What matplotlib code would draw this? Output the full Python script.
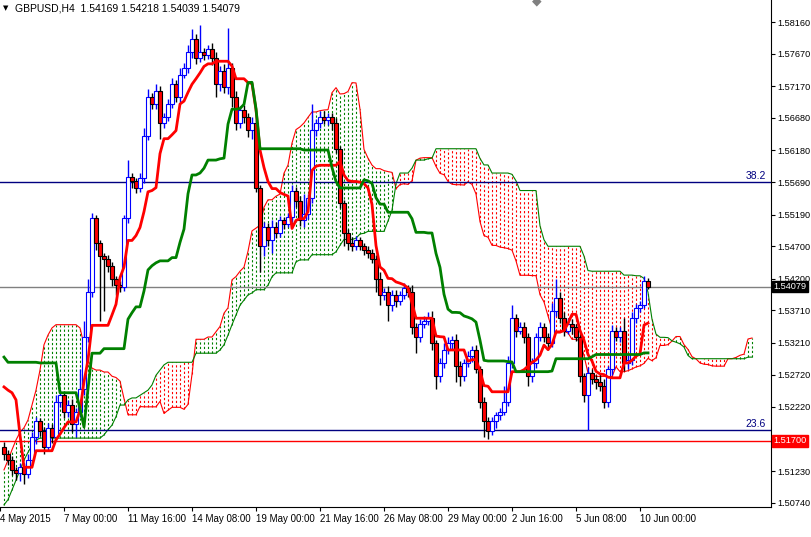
import matplotlib
matplotlib.use("Agg")
import matplotlib.pyplot as plt
import numpy as np

plt.rcParams["font.family"] = ["Liberation Sans", "DejaVu Sans"]

# GBPUSD H4 closes, bar 0 .. 161
closes = [1.5150, 1.5140, 1.5125, 1.5120, 1.5130,
          1.5118, 1.5140, 1.5175, 1.5200,
          1.5185, 1.5160, 1.5190, 1.5175,
          1.5230, 1.5240,
          1.5215, 1.5225, 1.5195, 1.5215,
          1.5250, 1.5330, 1.5400,
          1.5514, 1.5475, 1.5455,
          1.5450, 1.5440, 1.5420, 1.5410, 1.5407,
          1.5514, 1.5577,
          1.5570, 1.5560, 1.5575,
          1.5640, 1.5700, 1.5690,
          1.5710, 1.5660, 1.5670,
          1.5690, 1.5720, 1.5700,
          1.5735, 1.5745,
          1.5770, 1.5790, 1.5760, 1.5770,
          1.5765, 1.5775, 1.5760,
          1.5720, 1.5740, 1.5715, 1.5745,
          1.5700, 1.5660, 1.5680, 1.5670, 1.5650, 1.5660,
          1.5560, 1.5470, 1.5500, 1.5480,
          1.5500, 1.5490, 1.5510, 1.5505, 1.5515,
          1.5555, 1.5540,
          1.5510, 1.5520, 1.5545,
          1.5650, 1.5660, 1.5670, 1.5665, 1.5670, 1.5660,
          1.5620, 1.5537, 1.5490,
          1.5475, 1.5470, 1.5480, 1.5470, 1.5465, 1.5460, 1.5450,
          1.5420, 1.5395, 1.5400,
          1.5380, 1.5395, 1.5385, 1.5395,
          1.5405, 1.5400,
          1.5345, 1.5330,
          1.5350, 1.5355, 1.5360, 1.5320,
          1.5270, 1.5290, 1.5310, 1.5320, 1.5325,
          1.5285, 1.5270,
          1.5290, 1.5300, 1.5310, 1.5280,
          1.5230, 1.5200, 1.5185,
          1.5200, 1.5210, 1.5215, 1.5230,
          1.5290, 1.5360,
          1.5340, 1.5345, 1.5330,
          1.5270, 1.5290, 1.5330,
          1.5345, 1.5330, 1.5320,
          1.5370, 1.5390,
          1.5360, 1.5340, 1.5350, 1.5345,
          1.5330, 1.5270, 1.5240,
          1.5275, 1.5265, 1.5260, 1.5255, 1.5230,
          1.5280, 1.5340, 1.5330, 1.5340,
          1.5290, 1.5295, 1.5360,
          1.5375, 1.5380, 1.54169, 1.54079]
first_open = 1.5160

# wicks in pips above / below the body
wick_up = [8, 5, 6, 4, 5, 6, 10, 8, 6, 5,
           6, 8, 5, 10, 8, 6, 8, 10, 6, 30,
           25, 20, 7, 5, 5, 5, 6, 5, 4, 6,
           5, 26, 6, 5, 8, 12, 13, 6, 10, 8,
           6, 8, 10, 6, 10, 8, 10, 15, 8, 41,
           6, 6, 8, 10, 8, 12, 62, 8, 10, 6,
           8, 6, 10, 5, 5, 8, 6, 10, 8, 6,
           5, 6, 10, 6, 8, 30, 6, 40, 6, 8,
           8, 6, 6, 8, 5, 5, 6, 10, 6, 5,
           5, 6, 6, 6, 10, 5, 8, 8, 8, 6,
           8, 6, 10, 6, 8, 8, 8, 10, 6, 8,
           10, 10, 6, 10, 8, 6, 8, 6, 8, 6,
           8, 6, 6, 5, 5, 25, 10, 20, 6, 8,
           8, 6, 8, 6, 8, 6, 6, 12, 30, 10,
           8, 10, 8, 5, 6, 5, 8, 5, 6, 15,
           10, 6, 8, 6, 6, 20, 8, 8, 6, 6,
           8, 5]
wick_dn = [10, 8, 8, 10, 12, 15, 6, 8, 10, 8,
           10, 6, 8, 6, 8, 10, 8, 12, 20, 8,
           10, 8, 8, 10, 100, 80, 10, 12, 15, 8,
           6, 8, 10, 8, 6, 8, 6, 8, 8, 25,
           8, 6, 6, 8, 8, 6, 8, 10, 8, 6,
           8, 6, 10, 20, 10, 8, 10, 15, 10, 8,
           10, 12, 15, 6, 40, 15, 10, 20, 8, 6,
           8, 5, 8, 10, 8, 10, 8, 8, 10, 8,
           6, 8, 10, 6, 8, 20, 10, 8, 6, 6,
           8, 8, 6, 20, 15, 8, 25, 10, 8, 6,
           6, 8, 10, 25, 8, 6, 6, 10, 20, 10,
           8, 6, 8, 25, 15, 8, 6, 8, 6, 10,
           25, 12, 6, 10, 8, 6, 6, 8, 10, 6,
           10, 15, 10, 8, 6, 8, 10, 6, 8, 8,
           8, 6, 10, 6, 10, 10, 54, 8, 10, 8,
           10, 8, 8, 6, 8, 12, 10, 8, 8, 6,
           6, 4]

# indicator values before enough history is on screen
tenkan_head = [1.5253, 1.5248, 1.5244, 1.5233, 1.5179, 1.5129, 1.5129, 1.5129]
kijun_head = [1.5299] + [1.5291] * 8 + [1.5290] * 5 + [1.5244] * 5 + [1.5220, 1.5191, 1.5250, 1.5305, 1.5305, 1.5305]
span_a_head = [1.5125, 1.5140, 1.5156, 1.5171, 1.5183, 1.5190, 1.5202, 1.5225, 1.5248, 1.5279,
               1.5318, 1.5333, 1.5344, 1.5349, 1.5349, 1.5349, 1.5349, 1.5349, 1.5349, 1.5344,
               1.5318, 1.5294, 1.5282, 1.5279, 1.5279, 1.5276]
span_b_head = [1.5071, 1.5079, 1.5094, 1.5109, 1.5125, 1.5140, 1.5152, 1.5163, 1.5171,
               1.5174, 1.5174, 1.5174, 1.5174, 1.5174, 1.5174, 1.5174, 1.5174, 1.5174, 1.5174,
               1.5174, 1.5174, 1.5174, 1.5174, 1.5174, 1.5174, 1.5179, 1.5187, 1.5194, 1.5207,
               1.5225, 1.5225, 1.5233, 1.5236, 1.5236, 1.5240, 1.5244, 1.5248, 1.5256, 1.5271,
               1.5279, 1.5287, 1.5291, 1.5291, 1.5291, 1.5291, 1.5291, 1.5291, 1.5291, 1.5305,
               1.5305, 1.5305, 1.5305, 1.5305, 1.5305, 1.5310, 1.5318, 1.5333, 1.5349, 1.5364,
               1.5379, 1.5387, 1.5395, 1.5398, 1.5403, 1.5403, 1.5403, 1.5410, 1.5423, 1.5429,
               1.5429, 1.5429, 1.5429, 1.5429, 1.5446, 1.5449, 1.5449, 1.5449]

price_ticks = [1.58160, 1.57670, 1.57170, 1.56680, 1.56180, 1.55690, 1.55190, 1.54700,
               1.54200, 1.53710, 1.53210, 1.52720, 1.52220, 1.51230, 1.50740]
date_labels = ["4 May 2015", "7 May 00:00", "11 May 16:00", "14 May 08:00", "19 May 00:00",
               "21 May 16:00", "26 May 08:00", "29 May 00:00", "2 Jun 16:00", "5 Jun 08:00",
               "10 Jun 00:00"]
date_bars = [-1, 15, 31, 47, 63, 79, 95, 111, 127, 143, 159]
fib_382 = 1.55690
fib_236 = 1.51865
support = 1.51700

n = len(closes)
c = np.array(closes)
o = np.concatenate([[first_open], c[:-1]])
hi = np.maximum(o, c) + np.array(wick_up) * 1e-4
lo = np.minimum(o, c) - np.array(wick_dn) * 1e-4
hi[-1], lo[-1] = 1.54218, 1.54039

tenkan = list(tenkan_head)
for i in range(8, n):
    tenkan.append((hi[i - 8:i + 1].max() + lo[i - 8:i + 1].min()) / 2)
kijun = list(kijun_head)
for i in range(25, n):
    kijun.append((hi[i - 25:i + 1].max() + lo[i - 25:i + 1].min()) / 2)
span_a = list(span_a_head) + [(tenkan[j] + kijun[j]) / 2 for j in range(n)]
span_b = list(span_b_head)
for j in range(51, n):
    span_b.append((hi[j - 51:j + 1].max() + lo[j - 51:j + 1].min()) / 2)
span_a = np.array(span_a)
span_b = np.array(span_b)

fig = plt.figure(figsize=(8.12, 5.37), dpi=100)
ax = fig.add_axes([0, 30 / 537, 771 / 812, 507 / 537])
ax.set_xlim(-1, 191.75)
ax.set_ylim(1.50677, 1.5850)

# cloud
xs = np.arange(len(span_a))
for i in xs:
    col = "#008000" if span_a[i] >= span_b[i] else "#ff0000"
    ax.vlines(i, min(span_a[i], span_b[i]), max(span_a[i], span_b[i]), colors=col,
              linestyles=(0, (2, 2)), lw=0.8, zorder=1)
ax.plot(xs, span_a, color="#ff0000", lw=0.8, zorder=2)
ax.plot(xs, span_b, color="#008000", lw=0.8, zorder=2)

# horizontal levels
ax.axhline(fib_382, color="#000080", lw=1, zorder=2)
ax.axhline(fib_236, color="#000080", lw=1, zorder=2)
ax.axhline(support, color="#ff0000", lw=1, zorder=2)
ax.axhline(closes[-1], color="#808080", lw=1, zorder=2)
ax.text(190.5, fib_382 + 0.0002, "38.2", color="#000080", fontsize=7.5, ha="right", va="bottom")
ax.text(190.5, fib_236 + 0.0002, "23.6", color="#000080", fontsize=7.5, ha="right", va="bottom")

# candles
for i in range(n):
    up = c[i] >= o[i]
    wick = "#0000ff" if up else "#000000"
    ax.vlines(i, lo[i], hi[i], colors=wick, lw=1, zorder=3)
    b0, b1 = min(o[i], c[i]), max(o[i], c[i])
    if b1 - b0 < 0.00003:
        b1 = b0 + 0.00003
    ax.add_patch(plt.Rectangle((i - 0.4, b0), 0.8, b1 - b0,
                               facecolor="white" if up else "#ff0000",
                               edgecolor="#0000ff" if up else "#000000", lw=0.8, zorder=4))

ax.plot(range(n), tenkan, color="#ff0000", lw=2, zorder=5)
ax.plot(range(n), kijun, color="#008000", lw=2, zorder=5)

# axes styling
for s in ["top", "left"]:
    ax.spines[s].set_visible(False)
ax.yaxis.tick_right()
ax.set_yticks(price_ticks)
ax.set_yticklabels(["%.5f" % p for p in price_ticks], fontsize=6.6)
ax.tick_params(axis="y", length=3, pad=1.5)
ax.set_xticks(date_bars)
ax.set_xticklabels(date_labels, fontsize=7, ha="left")
ax.tick_params(axis="x", length=3, pad=2)
ax.text(1.003, closes[-1], "%.5f" % closes[-1], transform=ax.get_yaxis_transform(), fontsize=6.6,
        color="white", va="center", ha="left", zorder=10,
        bbox=dict(boxstyle="square,pad=0.15", fc="black", ec="black"))
ax.text(1.003, support, "%.5f" % support, transform=ax.get_yaxis_transform(), fontsize=6.6,
        color="white", va="center", ha="left", zorder=10,
        bbox=dict(boxstyle="square,pad=0.15", fc="#ff0000", ec="#ff0000"))

fig.text(0.018, 0.993, "GBPUSD,H4  %.5f %.5f %.5f %.5f" % (o[-1], hi[-1], lo[-1], c[-1]),
         fontsize=7.5, va="top", ha="left")
fig.text(0.004, 0.991, "\u25bc", fontsize=5, va="top", ha="left", family="DejaVu Sans")
fig.text(537 / 812, 0.999, "\u25c6", color="#808080", fontsize=9, va="center", ha="center",
         family="DejaVu Sans")

fig.savefig("out.png", dpi=100)
